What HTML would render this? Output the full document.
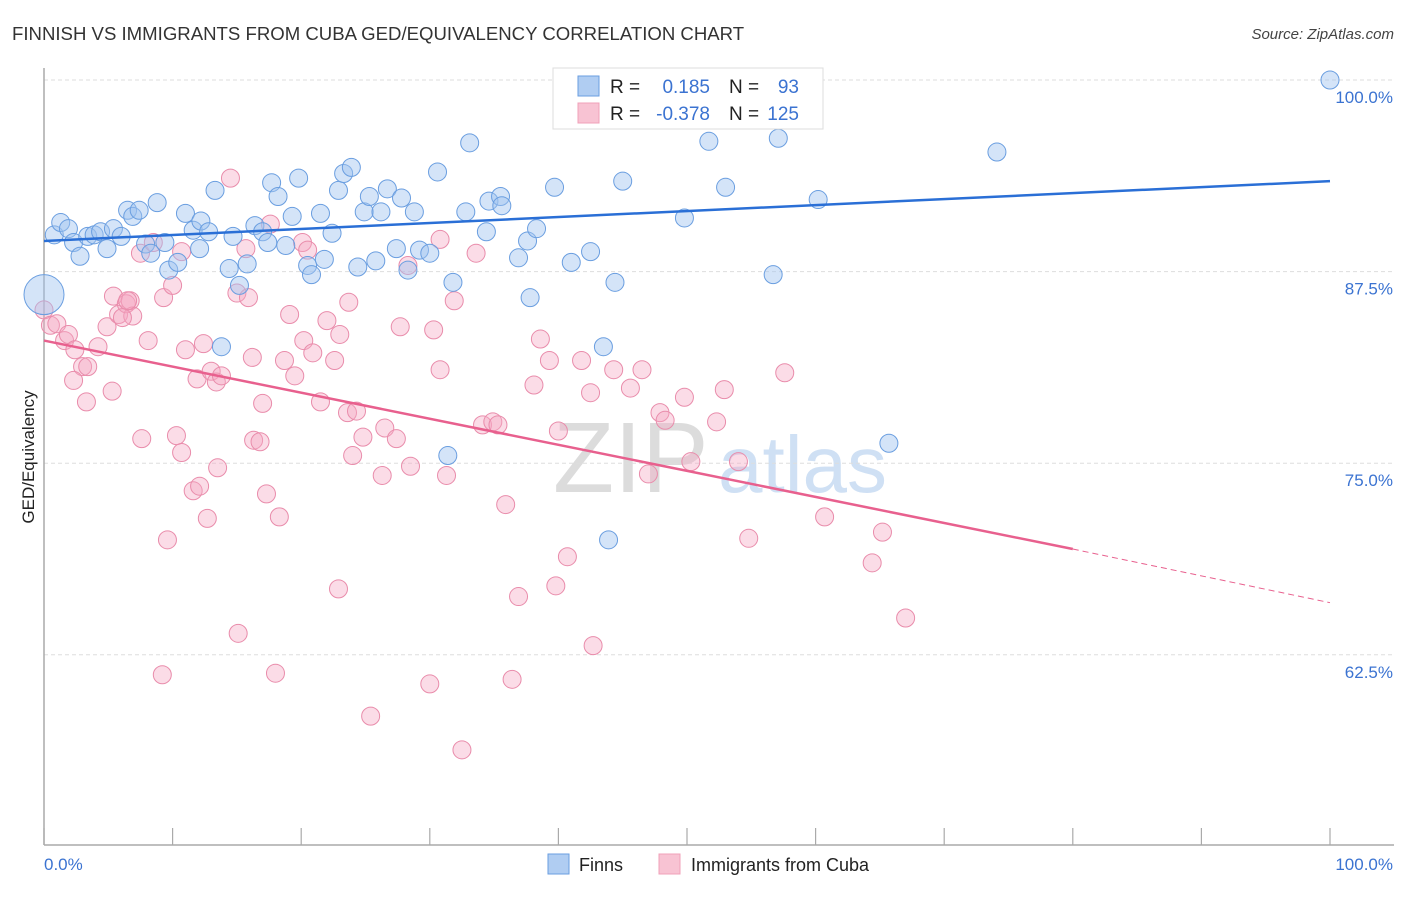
<!DOCTYPE html>
<html><head><meta charset="utf-8"><style>
body{margin:0;background:#fff;font-family:"Liberation Sans",sans-serif;}
svg text{font-family:"Liberation Sans",sans-serif;}
</style></head><body>
<svg id="chart" width="1406" height="892" xmlns="http://www.w3.org/2000/svg">
<text x="12" y="40" font-size="18.6" fill="#333">FINNISH VS IMMIGRANTS FROM CUBA GED/EQUIVALENCY CORRELATION CHART</text>
<text x="1394" y="39" font-size="15" fill="#444" text-anchor="end" font-style="italic">Source: ZipAtlas.com</text>
<g>
<text x="553" y="492" font-size="100" fill="#dcdcdc" font-family="Liberation Serif,serif">ZIP</text>
<text x="718" y="492" font-size="80" fill="#cfe0f4">atlas</text>
</g>
<g id="grid"></g>
<g id="axes"></g>
<g id="pts"></g>
<g id="lines"></g>
<text transform="translate(34,457) rotate(-90)" font-size="17" fill="#222" text-anchor="middle">GED/Equivalency</text>
<text x="44" y="870" font-size="17" fill="#3b73d1">0.0%</text>
<text x="1393" y="870" font-size="17" fill="#3b73d1" text-anchor="end">100.0%</text>
<g>
<rect x="553" y="68" width="270" height="61" fill="#fff" stroke="#ddd"/>
<rect x="578" y="76" width="21" height="20" fill="#b0cdf2" stroke="#6a9ee0"/>
<rect x="578" y="103" width="21" height="20" fill="#f8c3d3" stroke="#f0a0b8"/>
<text x="610" y="93" font-size="19" fill="#222">R =</text>
<text x="710" y="93" font-size="19" fill="#3b73d1" text-anchor="end">0.185</text>
<text x="729" y="93" font-size="19" fill="#222">N =</text>
<text x="799" y="93" font-size="19" fill="#3b73d1" text-anchor="end">93</text>
<text x="610" y="120" font-size="19" fill="#222">R =</text>
<text x="710" y="120" font-size="19" fill="#3b73d1" text-anchor="end">-0.378</text>
<text x="729" y="120" font-size="19" fill="#222">N =</text>
<text x="799" y="120" font-size="19" fill="#3b73d1" text-anchor="end">125</text>
</g>
<g>
<rect x="548" y="854" width="21" height="20" fill="#b0cdf2" stroke="#6a9ee0"/>
<text x="579" y="871" font-size="18" fill="#222">Finns</text>
</g>
<g>
<rect x="659" y="854" width="21" height="20" fill="#f8c3d3" stroke="#f0a0b8"/>
<text x="691" y="871" font-size="18" fill="#222">Immigrants from Cuba</text>
</g>
</svg>
<script>
const yTicks=[100,87.5,75,62.5];
const yTickLabels=["100.0%","87.5%","75.0%","62.5%"];
const xTicks=[0,10,20,30,40,50,60,70,80,90,100];
const finnsX=[0.8,1.3,1.9,2.3,2.8,3.4,3.9,4.4,4.9,5.4,6.0,6.5,6.9,7.4,7.9,8.3,8.8,9.4,9.7,10.4,11.0,11.6,12.1,12.2,12.8,13.3,13.8,14.4,14.7,15.2,15.8,16.4,17.0,17.4,17.7,18.2,18.8,19.3,19.8,20.5,20.8,21.5,21.8,22.4,22.9,23.3,23.9,24.4,24.9,25.3,25.8,26.2,26.7,27.4,27.8,28.3,28.8,29.2,30.0,30.6,31.4,31.8,32.8,33.1,34.4,34.6,35.5,35.6,36.9,37.6,37.8,38.3,39.7,41.0,42.5,43.5,43.9,44.4,45.0,49.8,51.7,53.0,55.8,56.7,57.1,58.8,60.2,65.7,74.1,100,41.5];
const finnsY=[89.9,90.7,90.3,89.4,88.5,89.8,89.9,90.1,89.0,90.3,89.8,91.5,91.1,91.5,89.3,88.7,92.0,89.4,87.6,88.1,91.3,90.2,89.0,90.8,90.1,92.8,82.6,87.7,89.8,86.6,88.0,90.5,90.1,89.4,93.3,92.4,89.2,91.1,93.6,87.9,87.3,91.3,88.3,90.0,92.8,93.9,94.3,87.8,91.4,92.4,88.2,91.4,92.9,89.0,92.3,87.6,91.4,88.9,88.7,94.0,75.5,86.8,91.4,95.9,90.1,92.1,92.4,91.8,88.4,89.5,85.8,90.3,93.0,88.1,88.8,82.6,70.0,86.8,93.4,91.0,96.0,93.0,100,87.3,96.2,100,92.2,76.3,95.3,100,98.5];
const cubaX=[14.5,7.5,8.5,10.7,15.7,17.6,20.1,20.5,28.3,30.8,33.6,0,0.5,1.0,1.6,1.9,2.4,3.0,3.4,4.2,4.9,5.4,5.8,6.4,6.7,6.9,8.1,9.3,10.0,11.0,11.9,12.4,13.0,13.4,13.5,13.8,15.0,15.9,16.2,16.3,17.0,16.8,17.3,18.3,19.1,18.7,19.5,20.2,20.9,21.5,22.0,22.6,23.0,23.7,23.6,24.3,24.8,24.0,26.3,26.5,27.4,27.7,28.5,30.3,30.8,31.3,31.9,34.1,34.9,35.3,35.9,38.1,38.6,39.3,40.0,40.7,41.8,42.5,44.3,45.6,46.5,47.9,48.3,49.8,50.3,52.3,52.9,54.0,54.8,57.6,60.7,64.4,65.2,67.0,3.3,2.3,5.3,7.6,9.6,10.3,10.7,11.6,12.1,12.7,15.1,9.2,18.0,22.9,25.4,30.0,32.5,36.4,36.9,39.8,42.7,47.0,6.5,6.1];
const cubaY=[93.6,88.7,89.4,88.8,89.0,90.6,89.4,88.9,87.9,89.6,88.7,85.0,84.0,84.1,83.0,83.4,82.4,81.3,81.3,82.6,83.9,85.9,84.7,85.4,85.6,84.6,83.0,85.8,86.6,82.4,80.5,82.8,81.0,80.3,74.7,80.7,86.1,85.8,81.9,76.5,78.9,76.4,73.0,71.5,84.7,81.7,80.7,83.0,82.2,79.0,84.3,81.7,83.4,85.5,78.3,78.4,76.7,75.5,74.2,77.3,76.6,83.9,74.8,83.7,81.1,74.2,85.6,77.5,77.7,77.5,72.3,80.1,83.1,81.7,77.1,68.9,81.7,79.6,81.1,79.9,81.1,78.3,77.8,79.3,75.1,77.7,79.8,75.1,70.1,80.9,71.5,68.5,70.5,64.9,79.0,80.4,79.7,76.6,70.0,76.8,75.7,73.2,73.5,71.4,63.9,61.2,61.3,66.8,58.5,60.6,56.3,60.9,66.3,67.0,63.1,74.3,85.6,84.5];
const finnsTrend=[89.5,93.4];
const cubaTrend=[83.0,69.4,65.9];
const NS="http://www.w3.org/2000/svg";
const X0=44,X1=1330,YTOP=80,YPER=191.6/12.5,BOTTOM=845;
function sx(v){return X0+(X1-X0)*v/100;}
function sy(v){return YTOP+(100-v)*YPER;}
function mk(tag,attrs,parent){const e=document.createElementNS(NS,tag);for(const k in attrs)e.setAttribute(k,attrs[k]);parent.appendChild(e);return e;}
const grid=document.getElementById('grid'),axes=document.getElementById('axes'),pts=document.getElementById('pts'),lines=document.getElementById('lines');
yTicks.forEach((t,i)=>{
 const l=mk('line',{x1:X0,x2:1394,y1:sy(t),y2:sy(t),stroke:'#ddd','stroke-dasharray':'4,3'},grid);
 
 
 const tx=mk('text',{x:1393,y:sy(t)+23,'font-size':17,fill:'#3b73d1','text-anchor':'end'},grid);
 tx.textContent=yTickLabels[i];
 
 
});
const ya=mk('line',{x1:X0,x2:X0,y1:68,y2:BOTTOM,stroke:'#aaa','stroke-width':1.5},axes);


const xa=mk('line',{x1:X0,x2:1394,y1:BOTTOM,y2:BOTTOM,stroke:'#aaa','stroke-width':1.5},axes);


xTicks.forEach(t=>{
 const l=mk('line',{x1:sx(t),x2:sx(t),y1:828,y2:BOTTOM,stroke:'#aaa','stroke-width':1.2},axes);
 
 
});
function dots(xs,ys,fill,stroke,name){
 xs.forEach((x,i)=>{
  const c=mk('circle',{cx:sx(x),cy:sy(ys[i]),r:9,fill:fill,stroke:stroke,'stroke-width':1},pts);
  
  
 });
}
dots(cubaX,cubaY,'rgba(244,168,194,0.4)','#e98cab','cuba-point');
dots(finnsX,finnsY,'rgba(160,196,240,0.45)','#6a9ee0','finns-point');
const big=mk('circle',{cx:sx(0),cy:sy(86.0),r:20,fill:'rgba(160,196,240,0.45)',stroke:'#6a9ee0'},pts);


const bt=mk('line',{x1:sx(0),y1:sy(finnsTrend[0]),x2:sx(100),y2:sy(finnsTrend[1]),stroke:'#2a6fd6','stroke-width':2.5},lines);


const pt=mk('line',{x1:sx(0),y1:sy(cubaTrend[0]),x2:sx(80),y2:sy(cubaTrend[1]),stroke:'#e8608e','stroke-width':2.5},lines);


const pd=mk('line',{x1:sx(80),y1:sy(cubaTrend[1]),x2:sx(100),y2:sy(cubaTrend[2]),stroke:'#e8608e','stroke-width':1,'stroke-dasharray':'6,4'},lines);


</script>
</body></html>
